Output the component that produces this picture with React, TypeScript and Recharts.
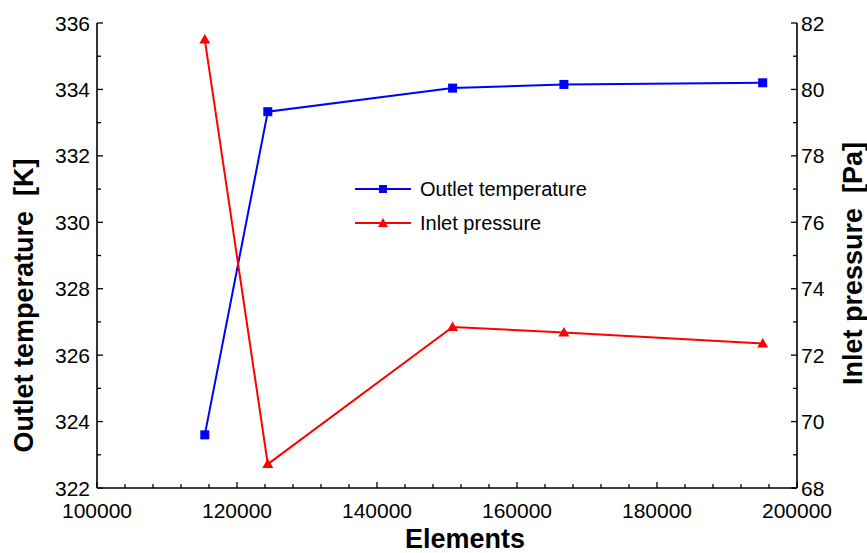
import { LineChart, Line, XAxis, YAxis, Legend } from "recharts";

// mesh size vs. outlet temperature / inlet pressure
const ELEMENTS = [115400, 124400, 150800, 166700, 195100];
const OUTLET_TEMP = [323.6, 333.33, 334.04, 334.15, 334.2];
const INLET_PRESSURE = [81.5, 68.72, 72.85, 72.68, 72.35];

const X_TICKS = [
  100000, 104000, 108000, 112000, 116000, 120000, 124000, 128000, 132000, 136000,
  140000, 144000, 148000, 152000, 156000, 160000, 164000, 168000, 172000, 176000,
  180000, 184000, 188000, 192000, 196000, 200000,
];
const TEMP_TICKS = [322, 323, 324, 325, 326, 327, 328, 329, 330, 331, 332, 333, 334, 335, 336];
const PRESSURE_TICKS = [68, 69, 70, 71, 72, 73, 74, 75, 76, 77, 78, 79, 80, 81, 82];

const data = ELEMENTS.map((e, i) => ({
  elements: e,
  temp: OUTLET_TEMP[i],
  pressure: INLET_PRESSURE[i],
}));

const FONT = '"Liberation Sans", Arial, sans-serif';
const BLUE = "#0000ff";
const RED = "#ff0000";
const MAJOR = 6;
const MINOR = 4;
const AXIS_W = 1.6;
const TICK_FONT = 21;

const LEFT_GAP = 7;
const RIGHT_GAP = 4;
const BOTTOM_GAP = 24;

// ticks point into the plot, like the original Origin graph
function LeftTick(props: any) {
  const { x, y, payload } = props;
  const v = payload.value as number;
  const major = v % 2 === 0;
  const ax = x + LEFT_GAP;
  return (
    <g>
      <line x1={ax} x2={ax + (major ? MAJOR : MINOR)} y1={y} y2={y} stroke="#000" strokeWidth={1.3} />
      {major && (
        <text x={x} y={y} dy="0.36em" textAnchor="end" fontSize={TICK_FONT} fontFamily={FONT} fill="#000">
          {v}
        </text>
      )}
    </g>
  );
}

function RightTick(props: any) {
  const { x, y, payload } = props;
  const v = payload.value as number;
  const major = v % 2 === 0;
  const ax = x - RIGHT_GAP;
  return (
    <g>
      <line x1={ax} x2={ax - (major ? MAJOR : MINOR)} y1={y} y2={y} stroke="#000" strokeWidth={1.3} />
      {major && (
        <text x={x} y={y} dy="0.36em" textAnchor="start" fontSize={TICK_FONT} fontFamily={FONT} fill="#000">
          {v}
        </text>
      )}
    </g>
  );
}

function BottomTick(props: any) {
  const { x, y, payload } = props;
  const v = payload.value as number;
  const major = v % 20000 === 0;
  const ay = y - BOTTOM_GAP;
  return (
    <g>
      <line x1={x} x2={x} y1={ay} y2={ay - (major ? MAJOR : MINOR)} stroke="#000" strokeWidth={1.3} />
      {major && (
        <text x={x} y={y} dy="0.3em" textAnchor="middle" fontSize={TICK_FONT} fontFamily={FONT} fill="#000">
          {v}
        </text>
      )}
    </g>
  );
}

function TopTick(props: any) {
  const { x, y, payload } = props;
  const major = (payload.value as number) % 20000 === 0;
  return <line x1={x} x2={x} y1={y} y2={y + (major ? MAJOR : MINOR)} stroke="#000" strokeWidth={1.3} />;
}

function Square(props: any) {
  const { cx, cy } = props;
  if (cx == null || cy == null) return <g />;
  return <rect x={cx - 4.5} y={cy - 4.5} width={9} height={9} fill={BLUE} />;
}

function Triangle(props: any) {
  const { cx, cy } = props;
  if (cx == null || cy == null) return <g />;
  return <polygon points={`${cx},${cy - 5.5} ${cx + 5.5},${cy + 4} ${cx - 5.5},${cy + 4}`} fill={RED} />;
}

const titleStyle = { fontSize: 27, fontWeight: 700, fontFamily: FONT, fill: "#000" };

function LegendBox() {
  const rows = [
    { name: "Outlet temperature", color: BLUE, square: true },
    { name: "Inlet pressure", color: RED, square: false },
  ];
  return (
    <div style={{ fontFamily: FONT, fontSize: 20, color: "#000" }}>
      {rows.map((r) => (
        <div key={r.name} style={{ display: "flex", alignItems: "center", height: 34 }}>
          <svg width={56} height={14} style={{ marginRight: 9 }}>
            <line x1={0} x2={56} y1={7} y2={7} stroke={r.color} strokeWidth={2} />
            {r.square ? (
              <rect x={24} y={3} width={8} height={8} fill={r.color} />
            ) : (
              <polygon points="28,2 33,11 23,11" fill={r.color} />
            )}
          </svg>
          <span>{r.name}</span>
        </div>
      ))}
    </div>
  );
}

export default function App() {
  return (
    <div style={{ position: "absolute", left: 0, top: 0, background: "#fff" }}>
      <LineChart width={867} height={553} data={data} margin={{ top: 23, right: 0, bottom: 0, left: 0 }}>
        <XAxis
          dataKey="elements"
          type="number"
          domain={[100000, 200000]}
          ticks={X_TICKS}
          interval={0}
          height={65}
          tickSize={0}
          tickMargin={BOTTOM_GAP}
          tickLine={false}
          axisLine={{ stroke: "#000", strokeWidth: AXIS_W }}
          tick={(p: any) => <BottomTick {...p} />}
          label={(p: any) => {
            const vb = p.viewBox;
            return (
              <text x={vb.x + vb.width / 2 + 18} y={vb.y + 60} textAnchor="middle" {...titleStyle}>
                Elements
              </text>
            );
          }}
        />
        <XAxis
          xAxisId="top"
          orientation="top"
          dataKey="elements"
          type="number"
          domain={[100000, 200000]}
          ticks={X_TICKS}
          interval={0}
          height={0}
          tickSize={0}
          tickMargin={0}
          tickLine={false}
          axisLine={{ stroke: "#000", strokeWidth: AXIS_W }}
          tick={(p: any) => <TopTick {...p} />}
        />
        <YAxis
          yAxisId="left"
          type="number"
          domain={[322, 336]}
          ticks={TEMP_TICKS}
          interval={0}
          width={97}
          tickSize={0}
          tickMargin={LEFT_GAP}
          tickLine={false}
          axisLine={{ stroke: "#000", strokeWidth: AXIS_W }}
          tick={(p: any) => <LeftTick {...p} />}
          label={(p: any) => {
            const vb = p.viewBox;
            const cx = vb.x + 23;
            const cy = vb.y + vb.height / 2 + 50;
            return (
              <text x={cx} y={cy} dy="0.36em" textAnchor="middle" transform={`rotate(-90 ${cx} ${cy})`} {...titleStyle}>
                {"Outlet temperature\u00a0 [K]"}
              </text>
            );
          }}
        />
        <YAxis
          yAxisId="right"
          orientation="right"
          type="number"
          domain={[68, 82]}
          ticks={PRESSURE_TICKS}
          interval={0}
          width={70}
          tickSize={0}
          tickMargin={RIGHT_GAP}
          tickLine={false}
          axisLine={{ stroke: "#000", strokeWidth: AXIS_W }}
          tick={(p: any) => <RightTick {...p} />}
          label={(p: any) => {
            const vb = p.viewBox;
            const cx = vb.x + 55;
            const cy = vb.y + vb.height / 2 + 8;
            return (
              <text x={cx} y={cy} dy="0.36em" textAnchor="middle" transform={`rotate(-90 ${cx} ${cy})`} {...titleStyle}>
                {"Inlet pressure\u00a0 [Pa]"}
              </text>
            );
          }}
        />
        <Legend
          layout="vertical"
          align="center"
          verticalAlign="middle"
          content={() => <LegendBox />}
          wrapperStyle={{ position: "absolute", left: 355, top: 172, width: "auto" }}
        />
        <Line
          yAxisId="left"
          dataKey="temp"
          name="Outlet temperature"
          stroke={BLUE}
          strokeWidth={2}
          dot={(p: any) => <Square key={`s${p.index}`} {...p} />}
          activeDot={false}
          isAnimationActive={false}
        />
        <Line
          yAxisId="right"
          dataKey="pressure"
          name="Inlet pressure"
          stroke={RED}
          strokeWidth={2}
          dot={(p: any) => <Triangle key={`t${p.index}`} {...p} />}
          activeDot={false}
          isAnimationActive={false}
        />
      </LineChart>
    </div>
  );
}
